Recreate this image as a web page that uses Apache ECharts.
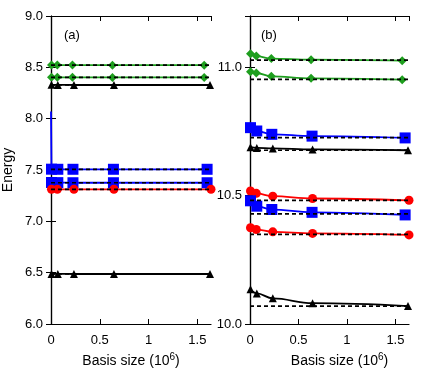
<!DOCTYPE html>
<html>
<head>
<meta charset="utf-8">
<script src="https://cdn.jsdelivr.net/npm/echarts@6/dist/echarts.min.js"></script>
<style>
  html, body { margin: 0; padding: 0; background: #fff; }
  #chart { width: 429px; height: 374px; }
</style>
</head>
<body>
<div id="chart"></div>
<script>
'use strict';
// basis sizes (10^6) per marker type
var xDiamond  = [0.005, 0.065, 0.22, 0.63, 1.57];
var xSquare   = [0.005, 0.07, 0.225, 0.64, 1.60];
var xTriangle = [0.005, 0.07, 0.235, 0.645, 1.63];
var xCircle   = [0.005, 0.065, 0.235, 0.645, 1.64];

// panel (a) energies
var aGreenHi = [8.523, 8.522, 8.522, 8.521, 8.521];
var aGreenLo = [8.404, 8.403, 8.403, 8.402, 8.402];
var aBlackHi = [8.330, 8.329, 8.328, 8.328, 8.328];
var aBlueHi  = [7.508, 7.507, 7.507, 7.507, 7.507];
var aBlueStart = 8.07;   // value at basis size 0 (no marker)
var aBlueLo  = [7.378, 7.377, 7.376, 7.376, 7.376];
var aRed     = [7.313, 7.312, 7.312, 7.312, 7.312];
var aBlackLo = [6.488, 6.488, 6.487, 6.487, 6.487];
var aLimits  = [8.521, 8.402, 8.328, 7.507, 7.376, 7.312, 6.487];

// panel (b) energies
var bGreenHi = [11.053, 11.044, 11.034, 11.030, 11.026];
var bGreenLo = [10.983, 10.978, 10.965, 10.957, 10.952];
var bBlueHi  = [10.765, 10.752, 10.739, 10.732, 10.725];
var bBlackHi = [10.689, 10.686, 10.684, 10.680, 10.677];
var bRedHi   = [10.518, 10.509, 10.498, 10.489, 10.482];
var bBlueLo  = [10.480, 10.459, 10.446, 10.435, 10.425];
var bRedLo   = [10.375, 10.368, 10.359, 10.353, 10.347];
var bBlackLo = [10.135, 10.119, 10.100, 10.081, 10.070];
var bLimits  = [11.028, 10.953, 10.726, 10.677, 10.482, 10.429, 10.349, 10.070];

var xLimitRange = [0, 1.64];
var xTicks = ['0', '0.5', '1', '1.5'];

var FONT = "'Liberation Sans', Arial, sans-serif";
var GREEN = '#1e9e1e', BLUE = '#0000ff', RED = '#ff0000', BLACK = '#000000';

var TRI = 'triangle';
var DIA = 'diamond';

function pairs(xs, ys) {
    var out = [];
    for (var i = 0; i < xs.length; i++) {
        out.push([xs[i], ys[i]]);
    }
    return out;
}

function curve(idx, xs, ys, color, symbol, size) {
    return {
        type: 'line',
        xAxisIndex: idx, yAxisIndex: idx,
        data: pairs(xs, ys),
        smooth: 0.4,
        smoothMonotone: 'x',
        symbol: symbol,
        symbolSize: size,
        itemStyle: {color: color},
        lineStyle: {color: color, width: 1.8},
        z: 3,
        animation: false
    };
}

function limitLine(idx, v) {
    return {
        type: 'line',
        xAxisIndex: idx, yAxisIndex: idx,
        data: [[xLimitRange[0], v], [xLimitRange[1], v]],
        symbol: 'none',
        lineStyle: {color: BLACK, width: 1.7, type: [4, 3]},
        z: 4,
        animation: false
    };
}

var sup = {fontSize: 10, padding: [0, 0, 8, 0], fontFamily: FONT, color: '#000'};
var nameRich = {sup: sup};

function xAxisMain(gi, pad) {
    return {
        type: 'value', gridIndex: gi, position: 'bottom',
        min: 0, max: xLimitRange[1], interval: 0.5,
        name: 'Basis size (10{sup|6})',
        nameLocation: 'middle', nameGap: 28,
        nameTextStyle: {fontSize: 14, fontFamily: FONT, color: '#000', rich: nameRich, padding: pad},
        axisLine: {lineStyle: {color: BLACK, width: 1.2}},
        axisTick: {inside: true, length: 5, lineStyle: {color: BLACK}},
        axisLabel: {
            fontSize: 13, fontFamily: FONT, color: '#000', margin: 10,
            formatter: function (v) { return xTicks[Math.round(v / 0.5)]; }
        },
        splitLine: {show: false}
    };
}
function xAxisTop(gi) {
    return {
        type: 'value', gridIndex: gi, position: 'top',
        min: 0, max: xLimitRange[1], interval: 0.5,
        axisLine: {lineStyle: {color: BLACK, width: 1.2}},
        axisTick: {inside: true, length: 5, lineStyle: {color: BLACK}},
        axisLabel: {show: false},
        splitLine: {show: false}
    };
}
function yAxisLeft(gi, min, max, name, showMax) {
    return {
        type: 'value', gridIndex: gi, position: 'left',
        min: min, max: max, interval: 0.5,
        name: name, nameLocation: 'middle', nameGap: 36, nameRotate: 90,
        nameTextStyle: {fontSize: 14, fontFamily: FONT, color: '#000'},
        axisLine: {lineStyle: {color: BLACK, width: 1.2}},
        axisTick: {inside: true, length: 5, lineStyle: {color: BLACK}},
        axisLabel: {
            fontSize: 13, fontFamily: FONT, color: '#000', margin: 8,
            showMaxLabel: showMax,
            formatter: function (v) { return v.toFixed(1); }
        },
        splitLine: {show: false}
    };
}
function yAxisRight(gi, min, max) {
    return {
        type: 'value', gridIndex: gi, position: 'right',
        min: min, max: max, interval: 0.5,
        axisLine: {lineStyle: {color: BLACK, width: 1.2}},
        axisTick: {inside: true, length: 5, lineStyle: {color: BLACK}},
        axisLabel: {show: false},
        splitLine: {show: false}
    };
}

var series = [];
// panel (a)
var blueHiData = pairs(xSquare, aBlueHi);
blueHiData.unshift({value: [0, aBlueStart], symbol: 'none'});
series.push(curve(0, xDiamond, aGreenHi, GREEN, DIA, 9));
series.push(curve(0, xDiamond, aGreenLo, GREEN, DIA, 9));
series.push(curve(0, xTriangle, aBlackHi, BLACK, TRI, 8));
var bh = curve(0, xSquare, aBlueHi, BLUE, 'rect', 11);
bh.data = blueHiData;
bh.smooth = false;
series.push(bh);
series.push(curve(0, xSquare, aBlueLo, BLUE, 'rect', 11));
series.push(curve(0, xCircle, aRed, RED, 'circle', 9));
series.push(curve(0, xTriangle, aBlackLo, BLACK, TRI, 8));
aLimits.forEach(function (v) { series.push(limitLine(0, v)); });
// panel (b)
series.push(curve(2, xDiamond, bGreenHi, GREEN, DIA, 9));
series.push(curve(2, xDiamond, bGreenLo, GREEN, DIA, 9));
series.push(curve(2, xSquare, bBlueHi, BLUE, 'rect', 11));
series.push(curve(2, xTriangle, bBlackHi, BLACK, TRI, 8));
series.push(curve(2, xCircle, bRedHi, RED, 'circle', 9));
series.push(curve(2, xSquare, bBlueLo, BLUE, 'rect', 11));
series.push(curve(2, xCircle, bRedLo, RED, 'circle', 9));
series.push(curve(2, xTriangle, bBlackLo, BLACK, TRI, 8));
bLimits.forEach(function (v) { series.push(limitLine(2, v)); });

var myChart = echarts.init(document.getElementById('chart'), null, {renderer: 'canvas'});
var option = {
    backgroundColor: '#fff',
    animation: false,
    title: [
        {text: '(a)', left: 59, top: 24, textStyle: {fontSize: 13, fontWeight: 'normal', fontFamily: FONT, color: '#000'}},
        {text: '(b)', left: 256, top: 24, textStyle: {fontSize: 13, fontWeight: 'normal', fontFamily: FONT, color: '#000'}}
    ],
    grid: [
        {left: 51, top: 16, width: 160, height: 308},
        {left: 250, top: 16, width: 159, height: 308}
    ],
    xAxis: [xAxisMain(0, [0, 0, 0, 0]), xAxisTop(0), xAxisMain(1, [0, 0, 0, 20]), xAxisTop(1)],
    yAxis: [yAxisLeft(0, 6, 9, 'Energy', true), yAxisRight(0, 6, 9), yAxisLeft(1, 10, 11.2, '', false), yAxisRight(1, 10, 11.2)],
    series: series
};
// bottom/left axes carry the data: indexes 0 (a) and 2 (b)
myChart.setOption(option);
</script>
</body>
</html>
